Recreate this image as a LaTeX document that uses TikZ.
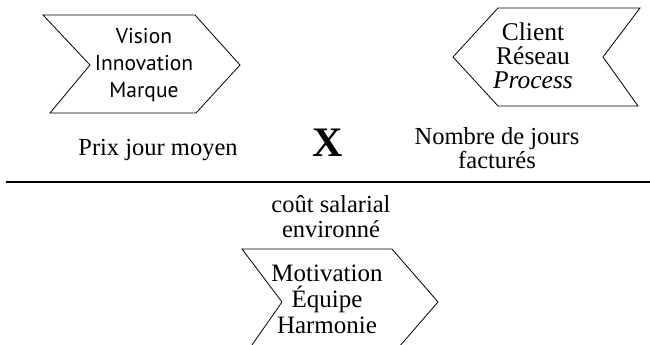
\documentclass[tikz,border=0pt]{standalone}
\usepackage{fontspec}
\setmainfont{Liberation Serif}
\newfontfamily\chevsans{PT Sans}
\usetikzlibrary{positioning}

\begin{document}
\begin{tikzpicture}[x=1pt,y=-1pt,
	txt/.style={align=center,inner sep=0pt,font=\fontsize{24.5}{24}\selectfont},
	sanstxt/.style={align=center,inner sep=0pt,font=\chevsans\fontsize{21.5}{27}\selectfont},
	chev/.style={draw,line width=0.8pt,line join=miter}]
	\useasboundingbox (0,0) rectangle (650,345);
	% chevrons
	\draw[chev] (43,15) -- (195,15) -- (240,65) -- (196,113) -- (50,113) -- (90,65) -- cycle;
	\draw[chev] (498,8) -- (640,8) -- (603,57) -- (638,106) -- (498,106) -- (453,57) -- cycle;
	\draw[chev] (242,249) -- (392,249) -- (438,302) -- (392,355) -- (245,355) -- (282,302) -- cycle;
	\node[sanstxt] (vision) at (144,65) {Vision\\Innovation\\Marque};
	\node[txt,font=\fontsize{25.5}{24}\selectfont] (client) at (533,56) {Client\\Réseau\\\textit{Process}};
	\node[txt,font=\fontsize{25}{26}\selectfont] (motiv) at (327,299) {Motivation\\Équipe\\Harmonie};
	% numerator
	\node[txt] (prix) at (158,150) {Prix jour moyen};
	\node[inner sep=0pt,font=\fontsize{42}{42}\selectfont\bfseries] (fois) at (328,143) {X};
	\node[txt] (jours) at (497,148) {Nombre de jours\\factur\'es};
	% fraction bar
	\coordinate (barl) at (6,182);
	\coordinate (barr) at (650,182);
	\draw[line width=2.5pt] (barl) -- (barr);
	\node[txt,font=\fontsize{24.5}{25}\selectfont] (cout) at (331,217) {co\^ut salarial\\environn\'e};
\end{tikzpicture}
\end{document}
